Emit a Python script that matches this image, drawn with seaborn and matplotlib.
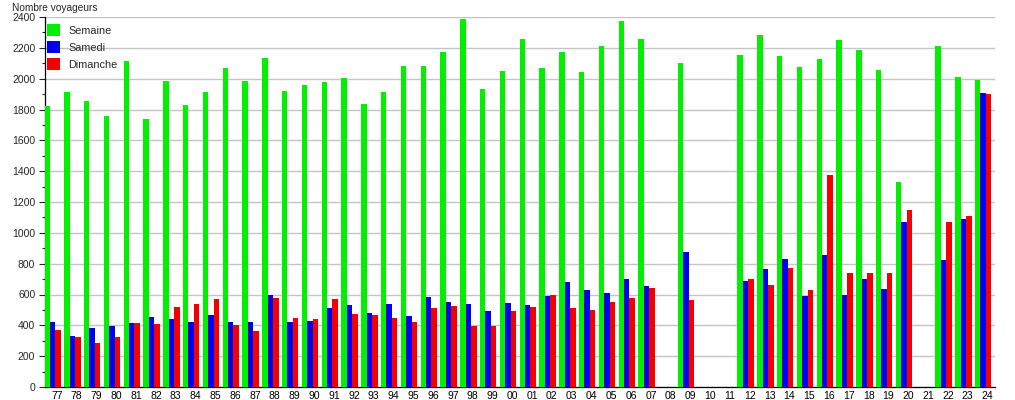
import numpy as np
import pandas as pd
import matplotlib
matplotlib.use("Agg")
import matplotlib.pyplot as plt
import seaborn as sns
from matplotlib.ticker import MultipleLocator

years = ["77", "78", "79", "80", "81", "82", "83", "84", "85", "86", "87", "88",
         "89", "90", "91", "92", "93", "94", "95", "96", "97", "98", "99", "00",
         "01", "02", "03", "04", "05", "06", "07", "08", "09", "10", "11", "12",
         "13", "14", "15", "16", "17", "18", "19", "20", "21", "22", "23", "24"]

semaine = [1820, 1911, 1853, 1755, 2112, 1738, 1983, 1827, 1911, 2067, 1983, 2132,
           1918, 1957, 1976, 2002, 1833, 1911, 2080, 2080, 2171, 2385, 1931, 2047,
           2255, 2067, 2171, 2041, 2210, 2372, 2255, np.nan, 2099, np.nan, np.nan, 2151,
           2281, 2145, 2073, 2125, 2248, 2184, 2054, 1327, np.nan, 2210, 2008, 1989]

samedi = [419, 333, 380, 393, 413, 452, 440, 419, 465, 419, 419, 595,
          419, 426, 510, 530, 478, 536, 458, 582, 549, 536, 491, 543,
          530, 588, 679, 627, 608, 698, 653, np.nan, 873, np.nan, np.nan, 685,
          763, 828, 588, 854, 595, 698, 633, 1068, np.nan, 822, 1087, 1905]

dimanche = [368, 322, 283, 322, 413, 406, 517, 536, 569, 400, 361, 575,
            445, 439, 569, 471, 465, 445, 419, 510, 523, 393, 393, 491,
            517, 595, 510, 497, 549, 575, 640, np.nan, 562, np.nan, np.nan, 698,
            659, 770, 627, 1373, 737, 737, 737, 1146, np.nan, 1068, 1107, 1898]

series_names = ["Semaine", "Samedi", "Dimanche"]
colors = ["#00f000", "#0000f0", "#f50000"]

df = pd.DataFrame({
    "annee": years * 3,
    "serie": [series_names[0]] * len(years) + [series_names[1]] * len(years) + [series_names[2]] * len(years),
    "voyageurs": semaine + samedi + dimanche,
})

sns.set_style("white")
plt.rcParams["font.family"] = ["Liberation Sans", "DejaVu Sans"]

fig = plt.figure(figsize=(10.15, 4.0), dpi=100)
ax = fig.add_axes([45 / 1015, 13 / 400, 950 / 1015, 370 / 400])

sns.barplot(data=df, x="annee", y="voyageurs", hue="serie", order=years,
            hue_order=series_names, palette=colors, width=0.83, errorbar=None,
            saturation=1, linewidth=0, ax=ax, zorder=3)

ax.set_xlim(-0.38, len(years) - 0.4)
ax.set_ylim(0, 2400)
ax.yaxis.set_major_locator(MultipleLocator(200))
ax.yaxis.set_minor_locator(MultipleLocator(100))
ax.grid(axis="y", which="major", color="#c4c4c4", linewidth=1.0, zorder=0)
ax.set_axisbelow(True)

ax.set_xticks(np.arange(len(years)) + 0.22)
ax.set_xticklabels(years)
ax.tick_params(axis="x", length=0, pad=3, labelsize=7.5, colors="#000000")
ax.tick_params(axis="y", which="major", length=4, width=0.8, pad=3, labelsize=7.5, left=True)
ax.tick_params(axis="y", which="minor", length=2, width=0.8, left=True)

for s in ["top", "right"]:
    ax.spines[s].set_visible(False)
for s in ["left", "bottom"]:
    ax.spines[s].set_color("black")
    ax.spines[s].set_linewidth(0.9)

ax.set_xlabel("")
ax.set_ylabel("")

leg = ax.legend(loc="upper left", bbox_to_anchor=(-0.002, 0.99), frameon=False,
                fontsize=7.8, handlelength=1.25, handleheight=1.25,
                handletextpad=0.75, labelspacing=0.5, borderaxespad=0.0,
                borderpad=0.35)

fig.text(12 / 1015, 1 - 3 / 400, "Nombre voyageurs", fontsize=7.3, va="top", ha="left")

fig.savefig("out.png", dpi=100)
